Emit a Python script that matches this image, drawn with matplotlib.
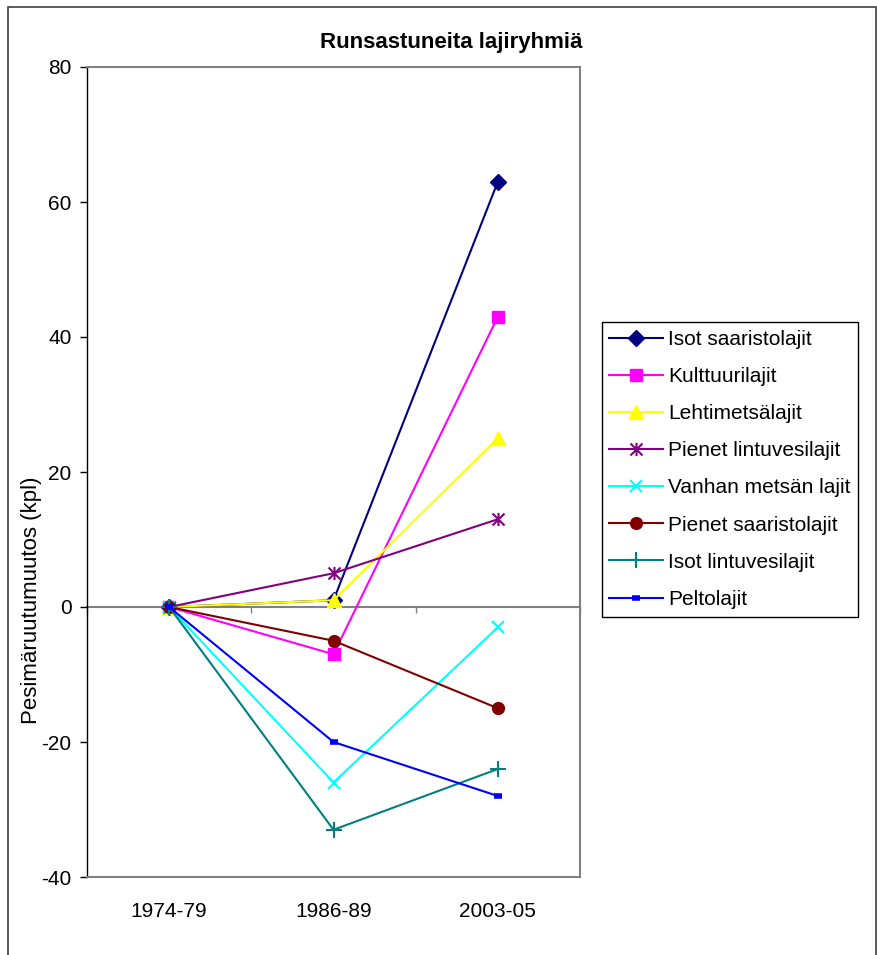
import matplotlib
matplotlib.use('Agg')
from matplotlib import pyplot as plt
from matplotlib.path import Path
from matplotlib.patches import Rectangle

plt.rcParams['font.family'] = ['Liberation Sans', 'DejaVu Sans']
plt.rcParams['axes.unicode_minus'] = False

periods = ['1974-79', '1986-89', '2003-05']

isot_saaristolajit = [0, 1, 63]
kulttuurilajit = [0, -7, 43]
lehtimetsalajit = [0, 1, 25]
pienet_lintuvesilajit = [0, 5, 13]
vanhan_metsan_lajit = [0, -26, -3]
pienet_saaristolajit = [0, -5, -15]
isot_lintuvesilajit = [0, -33, -24]
peltolajit = [0, -20, -28]

names = ['Isot saaristolajit', 'Kulttuurilajit', 'Lehtimetsälajit',
         'Pienet lintuvesilajit', 'Vanhan metsän lajit',
         'Pienet saaristolajit', 'Isot lintuvesilajit', 'Peltolajit']
series = [isot_saaristolajit, kulttuurilajit, lehtimetsalajit,
          pienet_lintuvesilajit, vanhan_metsan_lajit,
          pienet_saaristolajit, isot_lintuvesilajit, peltolajit]

# excel style asterisk: x plus a vertical bar
star = Path([(-1, -1), (1, 1), (-1, 1), (1, -1), (0, -1.1), (0, 1.1)],
            [Path.MOVETO, Path.LINETO, Path.MOVETO, Path.LINETO,
             Path.MOVETO, Path.LINETO])

styles = [
    dict(color='#000080', marker='D', ms=8.5),
    dict(color='#FF00FF', marker='s', ms=8),
    dict(color='#FFFF00', marker='^', ms=10),
    dict(color='#800080', marker=star, ms=9.5, mew=1.5),
    dict(color='#00FFFF', marker='x', ms=9, mew=1.5),
    dict(color='#800000', marker='o', ms=8.5),
    dict(color='#008080', marker='+', ms=11, mew=1.5),
    dict(color='#0000FF', marker='_', ms=6, mew=4),
]

fig = plt.figure(figsize=(8.77, 9.55), dpi=100)
ax = fig.add_axes([87 / 877, 1 - 877 / 955, 493 / 877, 810 / 955])

x = list(range(len(periods)))
for name, vals, st in zip(names, series, styles):
    ax.plot(x, vals, lw=1.5, label=name, **st)

ax.set_xlim(-0.5, 2.5)
ax.set_ylim(-40, 80)
ax.set_yticks(range(-40, 81, 20))
ax.set_xticks(x)
ax.set_xticklabels(periods)
ax.tick_params(axis='x', length=0, pad=18, labelsize=15)
ax.tick_params(axis='y', length=5, width=1, pad=6, labelsize=15, direction='out')

for s in ['top', 'right', 'bottom']:
    ax.spines[s].set_color('#808080')
    ax.spines[s].set_linewidth(1.5)
ax.spines['left'].set_color('black')
ax.spines['left'].set_linewidth(1)

# zero line with category boundary ticks
ylo, yhi = ax.get_ylim()
zero = ax.secondary_xaxis((0 - ylo) / (yhi - ylo))
zero.set_xticks([-0.5, 0.5, 1.5, 2.5])
zero.set_xticklabels([])
zero.tick_params(length=4, width=1, color='#808080', direction='out')
zero.spines['bottom'].set_color('#808080')
zero.spines['bottom'].set_linewidth(1.5)

fig.text(451 / 877, 1 - 48 / 955, 'Runsastuneita lajiryhmiä',
         ha='center', va='baseline', fontsize=16, fontweight='bold')
fig.text(32 / 877, 1 - 600 / 955, 'Pesimäruutumuutos (kpl)',
         rotation=90, ha='center', va='center', fontsize=16)

leg = ax.legend(loc='upper left', bbox_to_anchor=(601.5 / 877, 1 - 322 / 955),
                bbox_transform=fig.transFigure, borderaxespad=0,
                fontsize=15, handlelength=2.55, handletextpad=0.25,
                labelspacing=0.87, borderpad=0.38, fancybox=False,
                framealpha=1)
leg.get_frame().set_edgecolor('black')
leg.get_frame().set_linewidth(1)

fig.patches.append(Rectangle((8 / 877, -0.1), 868 / 877, 1.1 - 7 / 955,
                             transform=fig.transFigure, fill=False,
                             edgecolor='#404040', lw=1.2))

fig.savefig('out.png', dpi=100)
